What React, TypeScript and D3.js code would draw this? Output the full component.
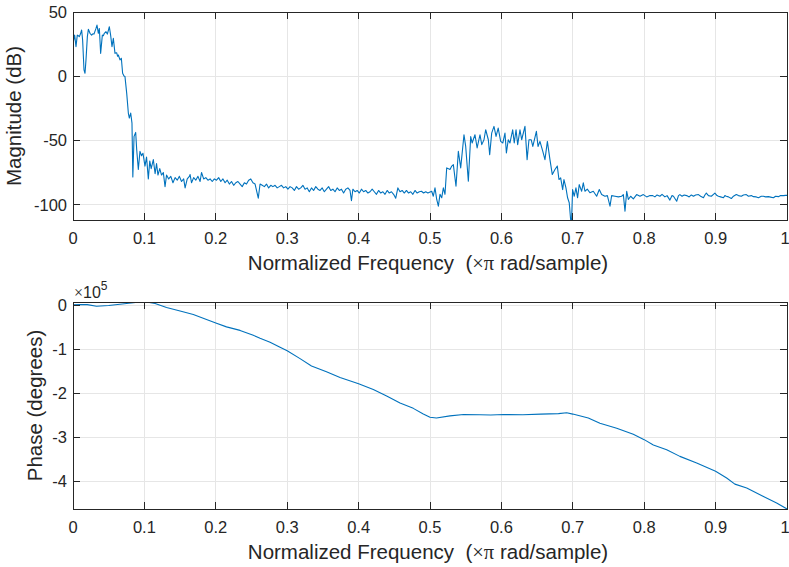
import React from 'react';
import * as d3 from 'd3';

// ---------- data ----------
const xTicks = [0, 0.1, 0.2, 0.3, 0.4, 0.5, 0.6, 0.7, 0.8, 0.9, 1];
const magTicks = [-100, -50, 0, 50];
const phaseTicks = [-4, -3, -2, -1, 0];
const magDomain = [-112, 50];
const phaseDomain = [-4.625, 0.075]; // x 1e5 degrees

// magnitude response (normalized freq, dB)
const magPassband: [number, number][] = [
  [0, 25.6], [0.0023, 32], [0.0042, 23], [0.006, 32], [0.0075, 31.5], [0.0089, 30.8], [0.0105, 33],
  [0.0121, 36], [0.0135, 28], [0.0154, 4.9], [0.0168, 2.3], [0.0182, 12.7], [0.0201, 30.8],
  [0.0215, 36.5], [0.0238, 33.4], [0.0261, 32], [0.0278, 33], [0.0294, 32.8], [0.0322, 37.2],
  [0.0336, 39.8], [0.0355, 33.4], [0.0369, 37.2], [0.0387, 17.8], [0.0411, 32], [0.0425, 31.5],
  [0.0439, 33.4], [0.0462, 34.7], [0.0481, 32.8], [0.0509, 38.5], [0.0527, 32], [0.0546, 23],
  [0.0565, 29.5], [0.0588, 17.8], [0.0611, 18.3], [0.0625, 15.5], [0.0635, 16.5], [0.0658, 12.7],
  [0.0677, 14], [0.0695, 2.3], [0.0714, 0.2], [0.0728, -0.3], [0.0752, -13.2], [0.0775, -28.7],
  [0.0789, -32.6], [0.0808, -28.7], [0.0826, -36.5],
];

const magTransition: [number, number][] = [
  [0.0838, -78.5], [0.0855, -46.9], [0.0878, -43.8], [0.0892, -57.2], [0.0915, -72.7],
  [0.0938, -58.5], [0.096, -62], [0.098, -60], [0.1008, -70], [0.103, -63], [0.1055, -80],
  [0.1075, -66], [0.1095, -72], [0.1125, -65], [0.115, -76], [0.117, -68], [0.119, -77],
  [0.1215, -72], [0.124, -77], [0.1265, -75], [0.1289, -86], [0.131, -77],
];

const magStopband1: [number, number][] = [
  [0.134, -80], [0.137, -78], [0.14, -83], [0.143, -79], [0.146, -81], [0.149, -78], [0.152, -82],
  [0.155, -80], [0.157, -87], [0.16, -80], [0.163, -78], [0.164, -76.6], [0.166, -83], [0.169, -79],
  [0.172, -81], [0.175, -78], [0.178, -82], [0.18, -75], [0.183, -80], [0.186, -79], [0.189, -81],
  [0.192, -80], [0.195, -82], [0.198, -80], [0.201, -81], [0.204, -79], [0.207, -82], [0.21, -80],
  [0.213, -83], [0.216, -81], [0.219, -84], [0.222, -82], [0.225, -85], [0.228, -83], [0.231, -82],
  [0.234, -84], [0.237, -86], [0.24, -83], [0.243, -84], [0.246, -81], [0.249, -80], [0.252, -83],
  [0.255, -84], [0.2595, -95], [0.262, -84], [0.265, -85], [0.268, -86], [0.271, -84], [0.274, -87],
  [0.277, -85], [0.28, -86], [0.283, -85], [0.286, -87], [0.289, -86], [0.292, -85], [0.295, -87],
  [0.298, -86], [0.301, -88], [0.304, -86], [0.307, -87], [0.31, -89], [0.313, -86], [0.316, -88],
  [0.319, -87], [0.322, -85], [0.325, -88], [0.328, -87], [0.331, -90], [0.334, -87], [0.337, -89],
  [0.34, -86], [0.343, -88], [0.346, -89], [0.349, -87], [0.352, -90], [0.355, -88], [0.358, -86],
  [0.361, -89], [0.364, -88], [0.367, -90], [0.37, -87], [0.373, -89], [0.376, -88], [0.379, -91],
  [0.382, -88], [0.385, -87], [0.388, -89], [0.39, -97], [0.392, -88], [0.395, -90], [0.398, -89],
];

const magStopband2: [number, number][] = [
  [0.401, -91], [0.404, -88], [0.407, -90], [0.41, -89], [0.413, -91], [0.416, -90], [0.419, -88],
  [0.422, -90], [0.425, -92], [0.428, -89], [0.431, -91], [0.434, -90], [0.437, -92], [0.44, -89],
  [0.443, -91], [0.446, -90], [0.449, -92], [0.452, -95], [0.455, -87], [0.458, -90], [0.461, -89],
  [0.464, -91], [0.467, -89], [0.47, -91], [0.473, -90], [0.476, -92], [0.479, -89], [0.482, -91],
  [0.485, -90], [0.488, -89.6], [0.491, -91], [0.494, -90], [0.497, -91], [0.5024, -89.6],
  [0.5046, -93.5], [0.507, -87], [0.5094, -96], [0.5117, -101.2], [0.514, -92], [0.5164, -94.7],
  [0.5187, -87], [0.521, -92],
];

const magSecondBand: [number, number][] = [
  [0.5234, -71.4], [0.528, -72.7], [0.5305, -70], [0.5327, -68.9], [0.5364, -85.7], [0.5397, -58.5],
  [0.543, -71.4], [0.5476, -45.6], [0.55, -54.7], [0.5537, -81.8], [0.557, -47], [0.559, -52],
  [0.563, -45.6], [0.566, -55.9], [0.57, -45.6], [0.5725, -53.3], [0.5756, -49.5], [0.578, -41.7],
  [0.5817, -49.5], [0.5836, -61.1], [0.5864, -44.3], [0.5896, -39.1], [0.5925, -46.9],
  [0.5955, -40.4], [0.599, -50.8], [0.602, -52], [0.605, -44.3], [0.607, -59.8], [0.6096, -49.5],
  [0.612, -52], [0.6158, -41.7], [0.618, -52], [0.6205, -41.7], [0.6228, -53.3], [0.626, -41.7],
  [0.6284, -49.5], [0.633, -39.1], [0.636, -65], [0.6386, -49.5], [0.6418, -49.5], [0.644, -54.7],
  [0.649, -43], [0.6513, -54.7], [0.654, -50.8], [0.658, -58.5], [0.661, -65], [0.6644, -50.8],
  [0.668, -65], [0.6713, -76.6], [0.675, -72.7], [0.6783, -70], [0.6806, -80.5], [0.683, -79.2],
  [0.6858, -88.3], [0.6876, -80.5], [0.6904, -87], [0.6927, -94.7], [0.695, -98.6], [0.697, -112],
  [0.6983, -112], [0.6997, -88.3], [0.702, -93.5], [0.7044, -87], [0.7067, -94.7], [0.709, -84.4],
  [0.7124, -89.6], [0.7147, -83.1], [0.717, -89.6], [0.7203, -88], [0.724, -90.8], [0.7287, -89.6],
  [0.7334, -93.5], [0.7371, -88.3], [0.7404, -92.2], [0.745, -93.5], [0.7484, -93], [0.7521, -101.2],
  [0.7544, -93], [0.7591, -93.5], [0.7638, -94], [0.7684, -93.5], [0.7708, -92.2], [0.7731, -105.1],
  [0.7755, -89.6], [0.7778, -96], [0.781, -93.5], [0.7848, -95.5], [0.7894, -92.2], [0.7941, -93.5],
  [0.7988, -92.2], [0.8035, -94], [0.8081, -93],
];

const magTail: [number, number][] = [
  [0.812, -93], [0.815, -94], [0.818, -92.5], [0.822, -93.5], [0.825, -92], [0.829, -94],
  [0.832, -93], [0.836, -96.5], [0.839, -93], [0.841, -93.5], [0.8455, -97.4], [0.848, -93],
  [0.85, -92.2], [0.853, -93.5], [0.856, -92.5], [0.8595, -93], [0.863, -94], [0.866, -92.5],
  [0.869, -93.5], [0.872, -92.5], [0.876, -92.2], [0.879, -93.5], [0.883, -94.7], [0.885, -92.5],
  [0.887, -91], [0.89, -93], [0.894, -93.5], [0.897, -92], [0.899, -91], [0.902, -93], [0.904, -93.5],
  [0.907, -94], [0.911, -94.7], [0.913, -93], [0.915, -93.5], [0.918, -94], [0.922, -95.3],
  [0.925, -93.5], [0.929, -92.2], [0.932, -93], [0.936, -93.5], [0.939, -92.5], [0.943, -92.2],
  [0.946, -93.5], [0.95, -93], [0.953, -93.8], [0.957, -94], [0.96, -94.7], [0.964, -93.5],
  [0.967, -93.5], [0.97, -94], [0.974, -93.8], [0.977, -94.2], [0.981, -94.7], [0.984, -93.5],
  [0.988, -93.8], [0.991, -93], [0.995, -93], [0.998, -92.8], [1.0, -92.8],
];

// phase response (normalized freq, degrees x 1e5)
const phaseData: [number, number][] = [
  [0, 0.01], [0.01, 0.015], [0.02, 0.015], [0.033, -0.02], [0.05, -0.005], [0.075, 0.04],
  [0.094, 0.075], [0.105, 0.07], [0.115, 0.04], [0.131, -0.05], [0.15, -0.13], [0.1685, -0.21],
  [0.187, -0.32], [0.2, -0.4], [0.215, -0.49], [0.234, -0.57], [0.2525, -0.68], [0.262, -0.75],
  [0.276, -0.84], [0.29, -0.95], [0.3, -1.03], [0.318, -1.21], [0.334, -1.38], [0.355, -1.51],
  [0.374, -1.64], [0.4, -1.78], [0.4206, -1.91], [0.4393, -2.06], [0.458, -2.22], [0.4766, -2.34],
  [0.4906, -2.47], [0.5, -2.54], [0.509, -2.56], [0.528, -2.51], [0.547, -2.48], [0.57, -2.485],
  [0.585, -2.49], [0.603, -2.48], [0.63, -2.485], [0.655, -2.47], [0.68, -2.46], [0.6914, -2.44],
  [0.7, -2.47], [0.7217, -2.56], [0.738, -2.68], [0.7615, -2.79], [0.7847, -2.93], [0.8, -3.05],
  [0.8128, -3.17], [0.8315, -3.28], [0.85, -3.43], [0.8735, -3.58], [0.9, -3.77], [0.9155, -3.92],
  [0.927, -4.06], [0.9436, -4.15], [0.967, -4.34], [0.9855, -4.49], [1.0, -4.625],
];

const magnitudeData = [
  ...magPassband, ...magTransition, ...magStopband1, ...magStopband2, ...magSecondBand, ...magTail,
];

// ---------- layout ----------
const W = 789;
const H = 567;
const LEFT = 73;
const RIGHT = 787;
const TICK_LEN = 7;
const AXIS_COLOR = '#262626';
const GRID_COLOR = '#e6e6e6';
const LINE_COLOR = '#0072BD';
const FONT = '"Liberation Sans", Arial, Helvetica, sans-serif';
const SERIF = '"Liberation Serif", "Times New Roman", serif';
const TICK_FS = 16.5;
const LABEL_FS = 20.5;

type PanelProps = {
  top: number;
  bottom: number;
  data: [number, number][];
  yDomain: number[];
  yTicks: number[];
  yLabel: string;
  yLabelX: number;
};

function Panel({ top, bottom, data, yDomain, yTicks, yLabel, yLabelX }: PanelProps) {
  const x = d3.scaleLinear().domain([0, 1]).range([LEFT, RIGHT]);
  const y = d3.scaleLinear().domain(yDomain).range([bottom, top]);
  const line = d3
    .line<[number, number]>()
    .x((d) => x(d[0]))
    .y((d) => y(d[1]));
  const clipId = `clip-${top}`;
  return (
    <g>
      <defs>
        <clipPath id={clipId}>
          <rect x={LEFT} y={top} width={RIGHT - LEFT} height={bottom - top} />
        </clipPath>
      </defs>
      {/* grid */}
      <g shapeRendering="crispEdges" stroke={GRID_COLOR} strokeWidth={1}>
        {xTicks.map((t) => (
          <line key={`gx${t}`} x1={x(t)} x2={x(t)} y1={top} y2={bottom} />
        ))}
        {yTicks.map((t) => (
          <line key={`gy${t}`} x1={LEFT} x2={RIGHT} y1={y(t)} y2={y(t)} />
        ))}
      </g>
      {/* data */}
      <path
        d={line(data) || ''}
        fill="none"
        stroke={LINE_COLOR}
        strokeWidth={1.1}
        strokeLinejoin="round"
        clipPath={`url(#${clipId})`}
      />
      {/* ticks */}
      <g shapeRendering="crispEdges" stroke={AXIS_COLOR} strokeWidth={1}>
        {xTicks.map((t) => (
          <g key={`tx${t}`}>
            <line x1={x(t)} x2={x(t)} y1={bottom} y2={bottom - TICK_LEN} />
            <line x1={x(t)} x2={x(t)} y1={top} y2={top + TICK_LEN} />
          </g>
        ))}
        {yTicks.map((t) => (
          <g key={`ty${t}`}>
            <line x1={LEFT} x2={LEFT + TICK_LEN} y1={y(t)} y2={y(t)} />
            <line x1={RIGHT} x2={RIGHT - TICK_LEN} y1={y(t)} y2={y(t)} />
          </g>
        ))}
        <rect x={LEFT} y={top} width={RIGHT - LEFT} height={bottom - top} fill="none" />
      </g>
      {/* tick labels */}
      <g fontFamily={FONT} fontSize={TICK_FS} fill={AXIS_COLOR}>
        {xTicks.map((t) => (
          <text
            key={`lx${t}`}
            x={t === 1 ? x(t) - 2 : x(t)}
            y={bottom + 24}
            textAnchor="middle"
          >
            {String(t)}
          </text>
        ))}
        {yTicks.map((t) => (
          <text key={`ly${t}`} x={LEFT - 6} y={y(t) + TICK_FS * 0.36} textAnchor="end">
            {String(t)}
          </text>
        ))}
      </g>
      {/* axis labels */}
      <text
        x={(LEFT + RIGHT) / 2 - 2}
        y={bottom + 50}
        textAnchor="middle"
        fontFamily={FONT}
        fontSize={LABEL_FS}
        fill={AXIS_COLOR}
      >
        Normalized Frequency{'\u00a0\u00a0'}(<tspan fontFamily={SERIF}>×π</tspan> rad/sample)
      </text>
      <text
        transform={`translate(${yLabelX},${(top + bottom) / 2}) rotate(-90)`}
        textAnchor="middle"
        fontFamily={FONT}
        fontSize={LABEL_FS}
        fill={AXIS_COLOR}
      >
        {yLabel}
      </text>
    </g>
  );
}

export default function App() {
  return (
    <svg
      width={W}
      height={H}
      viewBox={`0 0 ${W} ${H}`}
      style={{ position: 'absolute', left: 0, top: 0, background: '#ffffff' }}
    >
      <rect x={0} y={0} width={W} height={H} fill="#ffffff" />
      <Panel
        top={12}
        bottom={220}
        data={magnitudeData}
        yDomain={magDomain}
        yTicks={magTicks}
        yLabel="Magnitude (dB)"
        yLabelX={21}
      />
      <Panel
        top={302}
        bottom={509}
        data={phaseData}
        yDomain={phaseDomain}
        yTicks={phaseTicks}
        yLabel="Phase (degrees)"
        yLabelX={42}
      />
      <text x={74} y={298} fontFamily={FONT} fontSize={16} fill={AXIS_COLOR}>
        <tspan fontFamily={SERIF}>×</tspan>10
        <tspan fontSize={12} dy={-8}>
          5
        </tspan>
      </text>
    </svg>
  );
}
